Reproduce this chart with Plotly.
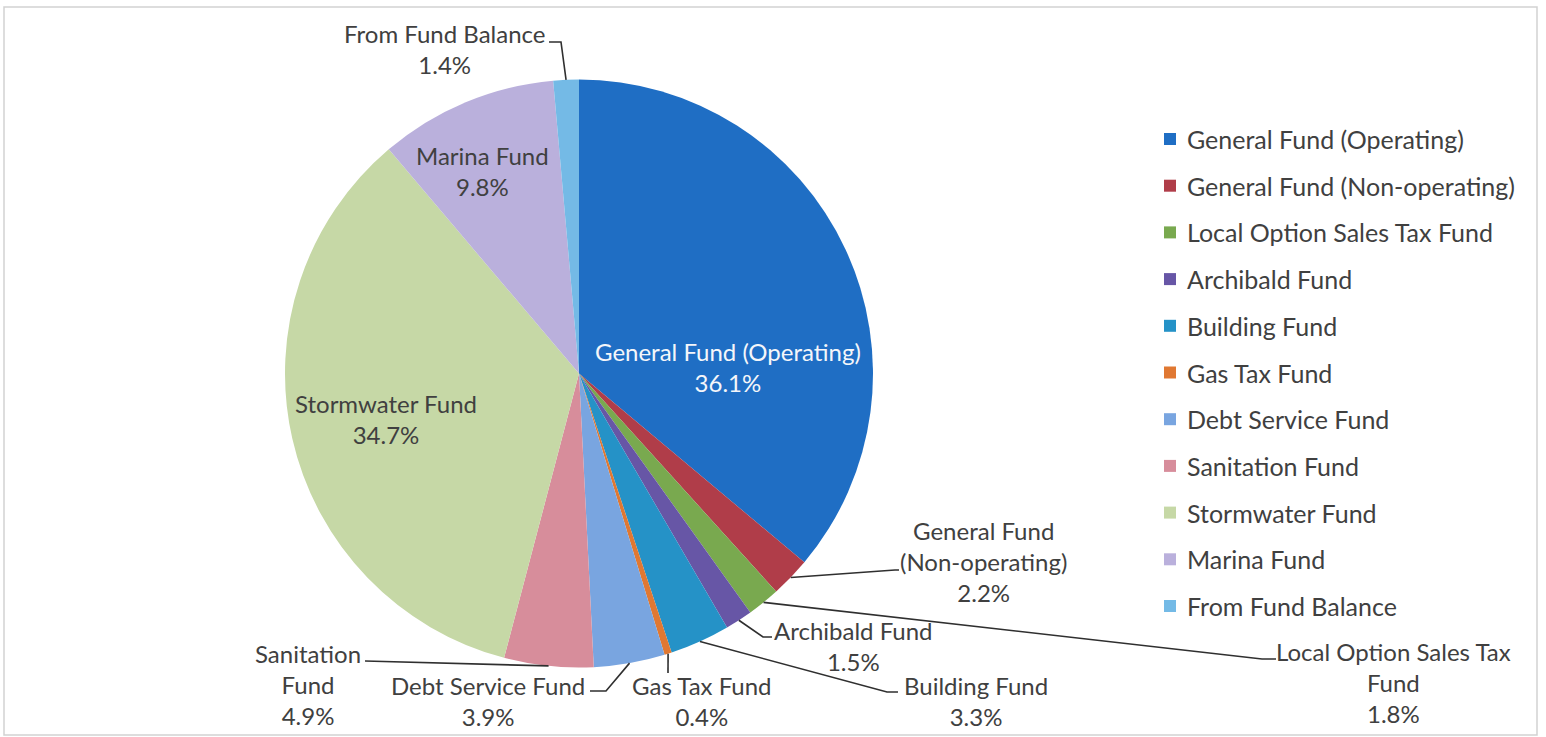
import math
import plotly.graph_objects as go

# Budget share by fund (percent of total)
funds = [
    "General Fund (Operating)",
    "General Fund (Non-operating)",
    "Local Option Sales Tax Fund",
    "Archibald Fund",
    "Building Fund",
    "Gas Tax Fund",
    "Debt Service Fund",
    "Sanitation Fund",
    "Stormwater Fund",
    "Marina Fund",
    "From Fund Balance",
]
shares = [36.1, 2.2, 1.8, 1.5, 3.3, 0.4, 3.9, 4.9, 34.7, 9.8, 1.4]

# Label text as it is wrapped on the chart
label_lines = {
    "General Fund (Operating)": ["General Fund (Operating)"],
    "General Fund (Non-operating)": ["General Fund", "(Non-operating)"],
    "Local Option Sales Tax Fund": ["Local Option Sales Tax", "Fund"],
    "Archibald Fund": ["Archibald Fund"],
    "Building Fund": ["Building Fund"],
    "Gas Tax Fund": ["Gas Tax Fund"],
    "Debt Service Fund": ["Debt Service Fund"],
    "Sanitation Fund": ["Sanitation", "Fund"],
    "Stormwater Fund": ["Stormwater Fund"],
    "Marina Fund": ["Marina Fund"],
    "From Fund Balance": ["From Fund Balance"],
}

slice_colors = [
    "#1F6EC4", "#B03D49", "#79A94F", "#6756A6", "#2592C7", "#E07832",
    "#79A5E0", "#D78D9B", "#C6D8A6", "#BAB0DC", "#74BAE6",
]

# ---- layout (pixels) ----
W, H = 1546, 737
CX, CY, R = 579, 373.5, 294          # pie centre and radius
FONT = "Lato, Calibri, Carlito, sans-serif"
FS = 24
FS_LEG = 25
TEXT = "#404040"

# label placement: centre of text block, optional leader path (elbow points)
label_place = {
    "General Fund (Operating)": dict(c=(728, 367), inside=True, color="#F4F6FA"),
    "Stormwater Fund": dict(c=(386, 419), inside=True),
    "Marina Fund": dict(c=(482, 171), inside=True),
    "From Fund Balance": dict(c=(444, 49), path=[(561, 42), (549, 42)]),
    "General Fund (Non-operating)": dict(c=(983, 561), path=[(895, 570), (899, 570)]),
    "Local Option Sales Tax Fund": dict(c=(1393, 682), path=[(1262, 659), (1276, 659)]),
    "Archibald Fund": dict(c=(853, 646), path=[(763, 637), (772, 637)]),
    "Building Fund": dict(c=(976, 701), path=[(887, 692), (898, 692)]),
    "Gas Tax Fund": dict(c=(702, 701), path=[(668, 673)]),
    "Debt Service Fund": dict(c=(488, 701), path=[(606, 691), (590, 691)]),
    "Sanitation Fund": dict(c=(308, 684), path=[(365, 661)]),
}


def px(x):
    return x / W


def py(y):
    return 1 - y / H


fig = go.Figure()
fig.add_trace(go.Pie(
    labels=funds,
    values=shares,
    sort=False,
    direction="clockwise",
    rotation=0,
    marker=dict(colors=slice_colors, line=dict(width=0)),
    textinfo="none",
    hoverinfo="label+percent",
    showlegend=False,
    domain=dict(x=[px(CX - R), px(CX + R)], y=[py(CY + R), py(CY - R)]),
))

annotations = []
shapes = []

# slice mid-angles (clockwise from 12 o'clock) from the cumulative shares
total = sum(shares)
cum = 0.0
for name, val in zip(funds, shares):
    mid = (cum + val / 2) / total * 2 * math.pi
    cum += val
    spec = label_place[name]
    lines = label_lines[name] + [f"{val:.1f}%"]
    cx, cyy = spec["c"]
    annotations.append(dict(
        x=px(cx), y=py(cyy), xref="paper", yref="paper",
        text="<br>".join(lines), showarrow=False,
        xanchor="center", yanchor="middle", align="center",
        font=dict(family=FONT, size=FS, color=spec.get("color", TEXT)),
    ))
    if "path" in spec:
        ex = CX + R * math.sin(mid)
        ey = CY - R * math.cos(mid)
        pts = [(ex, ey)] + spec["path"]
        d = "M " + " L ".join(f"{px(a):.5f},{py(b):.5f}" for a, b in pts)
        shapes.append(dict(type="path", xref="paper", yref="paper", path=d,
                           line=dict(color="#2F2F2F", width=1.6)))

# legend drawn as swatches + text
LEG_X, LEG_Y0, LEG_DY, SW = 1164, 139, 46.7, 12
for i, (name, col) in enumerate(zip(funds, slice_colors)):
    yy = LEG_Y0 + i * LEG_DY
    shapes.append(dict(type="rect", xref="paper", yref="paper",
                       x0=px(LEG_X), x1=px(LEG_X + SW),
                       y0=py(yy + SW / 2), y1=py(yy - SW / 2),
                       fillcolor=col, line=dict(width=0)))
    annotations.append(dict(
        x=px(LEG_X + SW + 9), y=py(yy), xref="paper", yref="paper",
        text=name, showarrow=False, xanchor="left", yanchor="middle",
        font=dict(family=FONT, size=FS_LEG, color=TEXT),
    ))

# chart frame
shapes.append(dict(type="rect", xref="paper", yref="paper",
                   x0=px(4), x1=px(1537), y0=py(735), y1=py(7),
                   line=dict(color="#D2D2D2", width=1.5), fillcolor="rgba(0,0,0,0)"))

fig.update_layout(
    width=W, height=H,
    margin=dict(l=0, r=0, t=0, b=0),
    paper_bgcolor="white",
    plot_bgcolor="white",
    annotations=annotations,
    shapes=shapes,
    showlegend=False,
)

fig.write_html("out.html")
